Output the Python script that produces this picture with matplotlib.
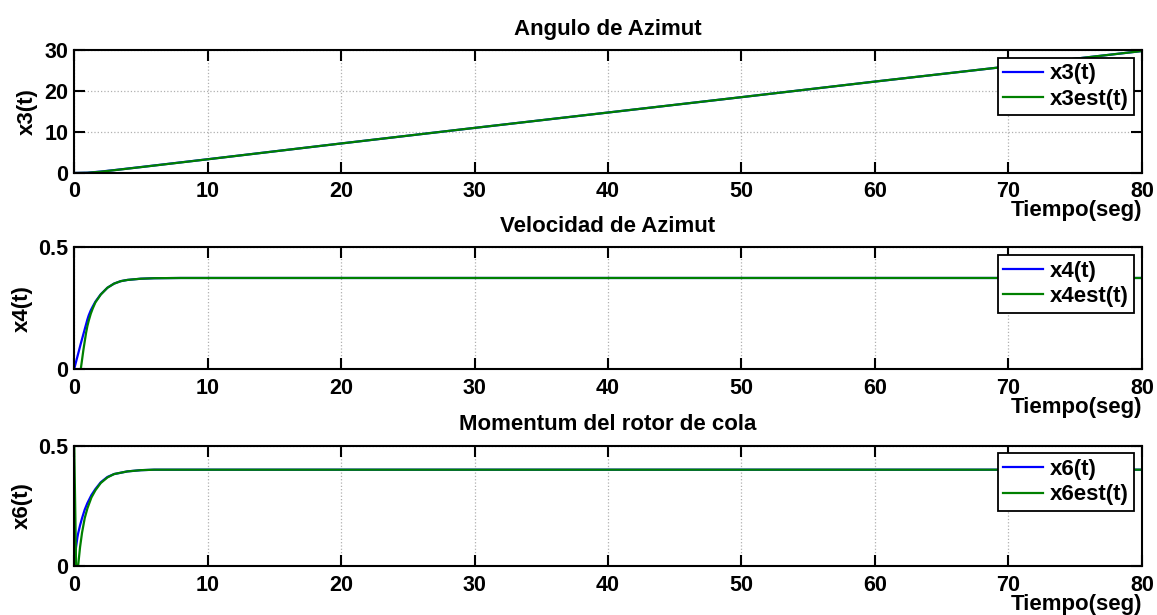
import numpy as np
import matplotlib.pyplot as plt

plt.rcParams['font.family'] = ['Liberation Sans', 'DejaVu Sans']
plt.rcParams['font.weight'] = 'bold'

# values
t3 = [0, 1, 2, 3, 5, 10, 20, 30, 40, 50, 60, 70, 80]
x3 = [0, 0.07, 0.35, 0.7, 1.45, 3.35, 7.2, 11.0, 14.75, 18.5, 22.3, 26.0, 29.75]
x3est = [0, 0.05, 0.32, 0.68, 1.43, 3.34, 7.2, 11.0, 14.75, 18.5, 22.3, 26.0, 29.75]

t4 = [0, 0.5, 0.7, 0.9, 1.0, 1.1, 1.25, 1.4, 1.6, 2.0, 2.5, 3.0, 3.5, 4.0, 5.0, 6.0, 8.0, 80]
x4 = [0, 0.105, 0.145, 0.185, 0.205, 0.222, 0.242, 0.258, 0.278, 0.308, 0.335, 0.352, 0.362, 0.367, 0.372, 0.374, 0.375, 0.375]
x4est = [0, 0, 0.08, 0.15, 0.178, 0.2, 0.228, 0.25, 0.275, 0.307, 0.335, 0.352, 0.362, 0.367, 0.372, 0.374, 0.375, 0.375]

t6 = [0, 0.1, 0.15, 0.25, 0.3, 0.45, 0.6, 0.8, 1.0, 1.3, 1.6, 2.0, 2.5, 3.0, 4.0, 5.0, 6.0, 8.0, 80]
x6 = [0, 0.06, 0.08, 0.12, 0.135, 0.17, 0.2, 0.235, 0.262, 0.295, 0.32, 0.348, 0.37, 0.382, 0.393, 0.398, 0.4, 0.4, 0.4]
x6est = [0.55, 0.2, 0, 0, 0, 0.08, 0.14, 0.2, 0.24, 0.285, 0.315, 0.345, 0.368, 0.382, 0.393, 0.398, 0.4, 0.4, 0.4]

titles = ['Angulo de Azimut', 'Velocidad de Azimut', 'Momentum del rotor de cola']
ylabels = ['x3(t)', 'x4(t)', 'x6(t)']
legends = [['x3(t)', 'x3est(t)'], ['x4(t)', 'x4est(t)'], ['x6(t)', 'x6est(t)']]
xticks = [0, 10, 20, 30, 40, 50, 60, 70, 80]

fig = plt.figure(figsize=(11.57, 6.15), dpi=100)

boxes = [(0.064, 0.7187, 0.923, 0.2), (0.064, 0.3992, 0.923, 0.1984), (0.064, 0.0789, 0.923, 0.1967)]
series = [(t3, x3, x3est), (t4, x4, x4est), (t6, x6, x6est)]
ylims = [(0, 30), (0, 0.5), (0, 0.5)]
yticks = [[0, 10, 20, 30], [0, 0.5], [0, 0.5]]
yticklabels = [['0', '10', '20', '30'], ['0', '0.5'], ['0', '0.5']]
ylab_x = [-0.034, -0.039, -0.039]

for i in range(3):
    ax = fig.add_axes(boxes[i])
    t, a, b = series[i]
    ax.plot(t, a, color='#0000ff', lw=1.6, label=legends[i][0])
    ax.plot(t, b, color='#008000', lw=1.6, label=legends[i][1])
    ax.set_xlim(0, 80)
    ax.set_ylim(*ylims[i])
    ax.set_xticks(xticks)
    ax.set_yticks(yticks[i])
    ax.set_yticklabels(yticklabels[i])
    ax.tick_params(direction='in', length=8, width=1.5, labelsize=15.5,
                   top=True, right=True, pad=6)
    ax.tick_params(axis='y', pad=4)
    ax.grid(True, color='#b0b0b0', ls=':', lw=0.9)
    for s in ax.spines.values():
        s.set_linewidth(1.5)
    ax.set_title(titles[i], fontsize=16, fontweight='bold', pad=11)
    ax.set_ylabel(ylabels[i], fontsize=16, fontweight='bold')
    ax.yaxis.set_label_coords(ylab_x[i], 0.5)
    ax.set_xlabel('Tiempo(seg)', fontsize=16, fontweight='bold', loc='right', labelpad=-1.5)
    leg = ax.legend(loc='upper right', fontsize=16, fancybox=False, framealpha=1,
                    edgecolor='black', handlelength=1.8, handletextpad=0.3,
                    labelspacing=0.2, borderpad=0.25, borderaxespad=0.35)
    leg.get_frame().set_linewidth(1.3)

fig.savefig('out.png', dpi=100)
